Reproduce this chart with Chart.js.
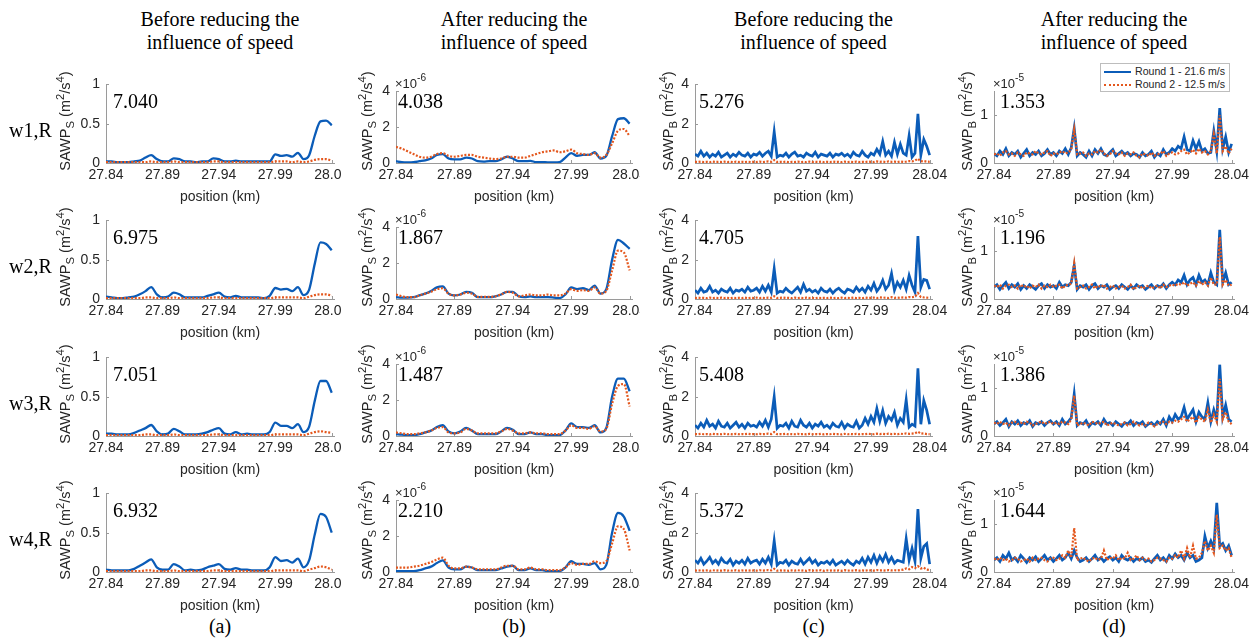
<!DOCTYPE html>
<html><head><meta charset="utf-8">
<script src="https://cdn.jsdelivr.net/npm/chart.js@4/dist/chart.umd.min.js"></script>
<style>
body{margin:0;background:#fff;width:1259px;height:638px;overflow:hidden;position:relative;font-family:"Liberation Sans",Arial,sans-serif;}
.wrap{position:absolute;overflow:hidden;}
.serif{position:absolute;font-family:"Liberation Serif","Times New Roman",serif;color:#000;white-space:nowrap;}
.ctitle{position:absolute;font-family:"Liberation Serif","Times New Roman",serif;font-size:20px;line-height:23px;text-align:center;transform:translateX(-50%);white-space:nowrap;color:#000;}
.ytitle{position:absolute;white-space:nowrap;font-size:14.5px;color:#262626;transform:translate(-50%,-50%) rotate(-90deg);line-height:16px;}
.ytitle sub,.exp sup,.ytitle sup{font-size:78%;line-height:0;}
.ytitle sub{vertical-align:-0.35em;}
.ytitle sup{vertical-align:0.55em;}
.exp{position:absolute;font-size:13px;color:#262626;white-space:nowrap;transform:translateY(-50%);}
.exp sup{vertical-align:0.6em;}
.legend{position:absolute;left:1100px;top:63px;width:128px;height:27px;border:1px solid #bdbdbd;background:#fff;font-size:10.6px;color:#262626;z-index:5;}
.legend .it{position:absolute;left:3px;height:13px;line-height:13px;white-space:nowrap;}
.legend .sw{display:inline-block;width:27px;height:0;vertical-align:middle;margin-right:4px;}
</style>
</head><body>
<script>
// ---------- data ----------
const xTicks = [27.84, 27.89, 27.94, 27.99, 28.04];
const yTicksA = [0, 0.5, 1];
const yTicksB = [0, 2, 4];   // x 1e-6
const yTicksC = [0, 2, 4];
const yTicksD = [0, 1];      // x 1e-5
const colTitle = ['Before reducing the', 'After reducing the', 'Before reducing the', 'After reducing the'];
const colTitle2 = 'influence of speed';
const panelLetters = ['(a)', '(b)', '(c)', '(d)'];
const rowLabels = ['w1,R', 'w2,R', 'w3,R', 'w4,R'];
const energyA = ['7.040', '6.975', '7.051', '6.932'];
const energyB = ['4.038', '1.867', '1.487', '2.210'];
const energyC = ['5.276', '4.705', '5.408', '5.372'];
const energyD = ['1.353', '1.196', '1.386', '1.644'];
const seriesNames = ['Round 1 - 21.6 m/s', 'Round 2 - 12.5 m/s'];

const posSmooth = [27.84,27.845,27.85,27.855,27.86,27.865,27.87,27.875,27.88,27.885,
27.89,27.895,27.9,27.905,27.91,27.915,27.92,27.925,27.93,27.935,
27.94,27.945,27.95,27.955,27.96,27.965,27.97,27.975,27.98,27.985,
27.99,27.995,28,28.005,28.01,28.015,28.02,28.025,28.03,28.035,28.04];
const posNoisy = [27.84,27.8425,27.845,27.8475,27.85,27.8525,27.855,27.8575,27.86,27.8625,
27.865,27.8675,27.87,27.8725,27.875,27.8775,27.88,27.8825,27.885,27.8875,
27.89,27.8925,27.895,27.8975,27.9,27.9025,27.905,27.9075,27.91,27.9125,
27.915,27.9175,27.92,27.9225,27.925,27.9275,27.93,27.9325,27.935,27.9375,
27.94,27.9425,27.945,27.9475,27.95,27.9525,27.955,27.9575,27.96,27.9625,
27.965,27.9675,27.97,27.9725,27.975,27.9775,27.98,27.9825,27.985,27.9875,
27.99,27.9925,27.995,27.9975,28,28.0025,28.005,28.0075,28.01,28.0125,
28.015,28.0175,28.02,28.0225,28.025,28.0275,28.03,28.0325,28.035,28.0375,28.04];

// (a) SAWP_S before
const a1Blue = [.02,.02,.01,.01,.01,.02,.03,.07,.10,.05,.02,.02,.06,.05,.02,.02,.01,.02,.02,.06,.05,.02,.02,.03,.02,.02,.02,.02,.02,.02,.11,.09,.10,.08,.13,.05,.10,.35,.53,.54,.48];
const a1Orange = [.01,.01,.01,.01,.01,.01,.01,.01,.02,.01,.01,.01,.02,.01,.01,.01,.01,.01,.01,.02,.02,.01,.01,.01,.01,.01,.01,.01,.01,.01,.02,.02,.02,.01,.02,.01,.02,.04,.05,.05,.03];
const a2Blue = [.03,.02,.01,.01,.02,.03,.06,.10,.15,.06,.02,.03,.08,.06,.02,.02,.02,.02,.04,.06,.08,.03,.02,.04,.02,.02,.02,.02,.01,.04,.14,.12,.13,.10,.15,.05,.12,.45,.72,.70,.62];
const a2Orange = [.01,.01,.01,.01,.01,.01,.01,.02,.02,.01,.01,.01,.02,.01,.01,.01,.01,.01,.01,.02,.02,.01,.01,.01,.01,.01,.01,.01,.01,.01,.02,.02,.02,.02,.02,.01,.03,.05,.06,.06,.04];
const a3Blue = [.03,.03,.02,.02,.02,.04,.07,.10,.14,.06,.02,.03,.09,.06,.02,.02,.02,.03,.05,.08,.10,.03,.02,.05,.02,.03,.02,.02,.02,.05,.17,.13,.13,.10,.15,.05,.12,.45,.70,.70,.55];
const a3Orange = [.01,.01,.01,.01,.01,.01,.01,.02,.02,.01,.01,.01,.02,.01,.01,.01,.01,.01,.01,.02,.02,.01,.01,.01,.01,.01,.01,.01,.01,.01,.02,.02,.02,.02,.02,.01,.03,.05,.06,.05,.04];
const a4Blue = [.03,.02,.02,.02,.02,.04,.08,.12,.16,.06,.03,.03,.10,.07,.02,.03,.02,.03,.06,.08,.10,.04,.03,.05,.03,.03,.02,.02,.02,.06,.19,.14,.15,.12,.17,.06,.15,.48,.74,.70,.50];
const a4Orange = [.01,.01,.01,.01,.01,.01,.01,.02,.02,.01,.01,.01,.02,.01,.01,.01,.01,.01,.01,.02,.02,.01,.01,.01,.01,.01,.01,.01,.01,.01,.02,.02,.02,.02,.02,.01,.03,.05,.07,.06,.03];

// (b) SAWP_S after (x 1e-6)
const b1Blue = [.10,.05,.04,.05,.10,.15,.25,.45,.50,.25,.20,.20,.30,.25,.10,.08,.10,.10,.20,.35,.25,.10,.10,.12,.05,.05,.04,.04,.05,.30,.55,.40,.45,.45,.60,.25,.40,1.50,2.45,2.50,2.20];
const b1Orange = [.90,.80,.65,.50,.35,.30,.35,.50,.55,.40,.35,.40,.45,.45,.35,.30,.25,.22,.25,.35,.35,.30,.30,.40,.50,.60,.65,.70,.60,.65,.75,.55,.50,.45,.55,.30,.45,1.10,1.80,1.90,1.50];
const b2Blue = [.10,.08,.08,.10,.20,.30,.45,.65,.70,.30,.20,.25,.40,.35,.10,.10,.10,.15,.25,.40,.40,.15,.10,.15,.10,.10,.10,.08,.05,.25,.65,.55,.60,.50,.75,.30,.55,2.20,3.30,3.10,2.80];
const b2Orange = [.25,.15,.10,.10,.20,.30,.40,.55,.60,.30,.20,.25,.35,.30,.12,.12,.12,.15,.25,.40,.35,.15,.20,.25,.20,.20,.25,.20,.20,.30,.55,.45,.50,.45,.65,.30,.45,1.60,2.70,2.60,1.60];
const b3Blue = [.10,.08,.05,.05,.10,.20,.30,.50,.60,.25,.15,.25,.45,.30,.10,.10,.10,.10,.25,.45,.35,.10,.10,.20,.10,.10,.05,.05,.05,.30,.70,.50,.50,.45,.60,.20,.45,2.20,3.20,3.20,2.50];
const b3Orange = [.20,.15,.10,.10,.15,.20,.30,.45,.50,.20,.15,.20,.40,.30,.15,.15,.15,.15,.25,.40,.30,.15,.15,.20,.15,.15,.10,.10,.10,.30,.60,.45,.45,.40,.55,.25,.40,1.80,2.80,2.90,1.65];
const b4Blue = [.05,.05,.05,.05,.10,.20,.30,.50,.65,.25,.15,.15,.30,.25,.10,.10,.10,.10,.20,.30,.35,.10,.10,.20,.10,.10,.05,.05,.05,.25,.60,.45,.45,.40,.50,.15,.40,2.20,3.30,3.10,2.30];
const b4Orange = [.25,.25,.25,.30,.35,.45,.55,.70,.80,.35,.20,.20,.30,.25,.15,.15,.15,.15,.25,.35,.35,.15,.15,.25,.15,.15,.10,.10,.10,.25,.50,.40,.45,.45,.60,.50,.60,1.60,2.55,2.40,1.20];

// (c) SAWP_B before
const c1Blue = [0.45,0.35,0.60,0.35,0.50,0.30,0.45,0.35,0.55,0.30,
0.40,0.50,0.30,0.45,0.35,0.55,0.40,0.35,0.50,0.30,
0.45,0.40,0.55,0.35,0.50,0.60,0.35,1.60,0.30,0.40,
0.35,0.50,0.30,0.45,0.55,0.35,0.40,0.30,0.50,0.40,
0.35,0.55,0.30,0.45,0.40,0.35,0.50,0.30,0.45,0.40,
0.50,0.35,0.45,0.30,0.55,0.40,0.35,0.60,0.40,0.30,
0.50,0.40,0.70,0.45,1.10,0.40,0.60,0.35,1.05,0.45,
0.95,0.50,0.40,1.40,0.30,0.50,2.50,0.40,1.20,0.85,0.40];
const c1Orange = [0.06,0.05,0.07,0.05,0.06,0.04,0.07,0.05,0.06,0.05,
0.07,0.05,0.06,0.04,0.07,0.05,0.06,0.05,0.07,0.05,
0.06,0.05,0.07,0.05,0.06,0.08,0.06,0.15,0.05,0.06,
0.05,0.07,0.04,0.06,0.05,0.07,0.05,0.06,0.04,0.07,
0.05,0.06,0.05,0.07,0.04,0.06,0.05,0.07,0.05,0.06,
0.04,0.07,0.05,0.06,0.05,0.07,0.05,0.06,0.05,0.07,
0.06,0.05,0.08,0.06,0.07,0.05,0.08,0.06,0.07,0.05,
0.08,0.06,0.07,0.10,0.08,0.12,0.22,0.08,0.10,0.07,0.06];
const c2Blue = [0.45,0.30,0.55,0.35,0.40,0.65,0.35,0.45,0.30,0.50,
0.40,0.35,0.55,0.30,0.45,0.40,0.50,0.35,0.60,0.40,
0.45,0.55,0.35,0.65,0.40,0.70,0.35,1.55,0.30,0.40,
0.35,0.55,0.40,0.30,0.45,0.60,0.35,0.75,0.40,0.50,
0.35,0.45,0.30,0.55,0.40,0.35,0.50,0.30,0.45,0.55,
0.40,0.30,0.50,0.45,0.35,0.60,0.40,0.55,0.35,0.65,
0.45,0.80,0.40,0.60,0.95,0.50,0.70,1.30,0.45,0.85,
0.60,0.95,0.50,1.20,0.70,0.35,3.20,0.60,1.00,0.95,0.50];
const c2Orange = [0.05,0.07,0.05,0.06,0.04,0.07,0.05,0.06,0.05,0.07,
0.05,0.06,0.04,0.07,0.05,0.06,0.05,0.07,0.04,0.06,
0.05,0.07,0.05,0.06,0.05,0.07,0.06,0.14,0.05,0.06,
0.07,0.05,0.06,0.04,0.07,0.05,0.06,0.05,0.07,0.05,
0.06,0.04,0.07,0.05,0.06,0.05,0.07,0.05,0.06,0.04,
0.07,0.05,0.06,0.05,0.07,0.05,0.06,0.04,0.07,0.05,
0.06,0.07,0.05,0.08,0.06,0.07,0.05,0.09,0.06,0.07,
0.06,0.08,0.07,0.10,0.09,0.12,0.30,0.10,0.08,0.07,0.06];
const c3Blue = [0.55,0.40,0.65,0.45,0.80,0.50,0.60,0.40,0.75,0.50,
0.45,0.65,0.40,0.55,0.70,0.45,0.60,0.40,0.65,0.50,
0.55,0.45,0.70,0.50,0.80,0.45,0.85,2.00,0.40,0.55,
0.50,0.65,0.40,0.75,0.50,0.45,0.80,0.55,0.45,0.65,
0.40,0.60,0.50,0.70,0.45,0.55,0.40,0.65,0.50,0.45,
0.70,0.40,0.60,0.50,0.45,0.75,0.40,0.55,0.90,0.60,
1.00,0.70,1.40,0.75,1.30,0.65,1.00,0.80,1.20,0.55,
0.90,0.70,1.85,0.45,0.60,0.50,3.45,0.60,1.80,1.30,0.60];
const c3Orange = [0.10,0.09,0.11,0.09,0.10,0.08,0.11,0.09,0.10,0.09,
0.11,0.09,0.10,0.08,0.11,0.09,0.10,0.09,0.11,0.09,
0.10,0.09,0.11,0.09,0.10,0.12,0.10,0.20,0.09,0.10,
0.09,0.11,0.08,0.10,0.09,0.11,0.09,0.10,0.08,0.11,
0.09,0.10,0.09,0.11,0.08,0.10,0.09,0.11,0.09,0.10,
0.08,0.11,0.09,0.10,0.09,0.11,0.09,0.10,0.09,0.11,
0.10,0.09,0.12,0.10,0.11,0.09,0.12,0.10,0.11,0.09,
0.12,0.10,0.13,0.11,0.12,0.14,0.22,0.12,0.13,0.10,0.09];
const c4Blue = [0.60,0.45,0.70,0.40,0.55,0.75,0.45,0.60,0.40,0.70,
0.50,0.45,0.65,0.35,0.55,0.45,0.60,0.40,0.70,0.45,
0.55,0.60,0.40,0.65,0.45,0.75,0.40,1.60,0.35,0.50,
0.45,0.60,0.35,0.55,0.45,0.40,0.65,0.40,0.55,0.70,
0.45,0.60,0.35,0.50,0.45,0.55,0.40,0.60,0.35,0.45,
0.55,0.40,0.60,0.45,0.35,0.55,0.45,0.70,0.40,0.75,
0.50,0.85,0.45,0.80,0.55,0.90,0.50,0.75,0.45,0.60,
0.55,0.50,1.70,0.60,1.20,0.55,3.20,0.70,1.30,1.45,0.40];
const c4Orange = [0.08,0.07,0.09,0.07,0.08,0.06,0.09,0.07,0.08,0.07,
0.09,0.07,0.08,0.06,0.09,0.07,0.08,0.07,0.09,0.07,
0.08,0.07,0.09,0.07,0.08,0.10,0.08,0.16,0.07,0.08,
0.07,0.09,0.06,0.08,0.07,0.09,0.07,0.08,0.06,0.09,
0.07,0.08,0.07,0.09,0.06,0.08,0.07,0.09,0.07,0.08,
0.06,0.09,0.07,0.08,0.07,0.09,0.07,0.08,0.07,0.09,
0.08,0.07,0.10,0.08,0.09,0.07,0.10,0.08,0.09,0.08,
0.10,0.12,0.18,0.14,0.25,0.20,0.30,0.18,0.22,0.12,0.10];

// (d) SAWP_B after (x 1e-5)
const d1Blue = [0.20,0.15,0.25,0.18,0.30,0.15,0.22,0.18,0.25,0.12,
0.20,0.28,0.15,0.22,0.18,0.25,0.15,0.20,0.28,0.18,
0.22,0.15,0.25,0.20,0.30,0.18,0.32,0.73,0.15,0.22,
0.18,0.12,0.25,0.15,0.28,0.20,0.30,0.18,0.15,0.22,
0.28,0.15,0.20,0.25,0.18,0.22,0.15,0.20,0.18,0.12,
0.22,0.15,0.18,0.25,0.12,0.20,0.15,0.28,0.18,0.22,
0.30,0.25,0.35,0.30,0.55,0.28,0.25,0.47,0.30,0.45,
0.25,0.30,0.20,0.22,0.67,0.25,1.15,0.30,0.55,0.22,0.40];
const d1Orange = [0.18,0.20,0.15,0.22,0.25,0.18,0.20,0.15,0.22,0.18,
0.15,0.22,0.20,0.18,0.25,0.20,0.18,0.22,0.25,0.15,
0.20,0.18,0.22,0.25,0.20,0.22,0.28,0.70,0.18,0.20,
0.22,0.15,0.20,0.18,0.25,0.22,0.28,0.20,0.15,0.18,
0.25,0.20,0.18,0.22,0.15,0.20,0.18,0.22,0.15,0.12,
0.20,0.18,0.15,0.22,0.15,0.18,0.20,0.25,0.15,0.20,
0.22,0.18,0.20,0.25,0.28,0.18,0.22,0.28,0.20,0.30,
0.22,0.25,0.18,0.25,0.60,0.20,1.00,0.25,0.35,0.20,0.30];
const d2Blue = [0.25,0.30,0.20,0.28,0.35,0.22,0.30,0.25,0.32,0.20,
0.28,0.22,0.30,0.25,0.20,0.28,0.32,0.22,0.30,0.25,
0.28,0.22,0.35,0.25,0.30,0.28,0.35,0.70,0.20,0.28,
0.25,0.30,0.20,0.28,0.32,0.22,0.28,0.25,0.30,0.20,
0.25,0.28,0.22,0.30,0.25,0.20,0.28,0.22,0.30,0.25,
0.28,0.20,0.25,0.30,0.22,0.28,0.25,0.32,0.22,0.30,
0.35,0.30,0.40,0.35,0.50,0.30,0.40,0.45,0.30,0.50,
0.35,0.40,0.30,0.55,0.35,0.30,1.45,0.35,0.55,0.30,0.35];
const d2Orange = [0.28,0.25,0.30,0.22,0.28,0.30,0.25,0.28,0.22,0.30,
0.25,0.28,0.22,0.28,0.25,0.30,0.22,0.28,0.25,0.30,
0.25,0.28,0.30,0.22,0.28,0.30,0.32,0.75,0.22,0.25,
0.28,0.22,0.25,0.30,0.22,0.28,0.25,0.30,0.22,0.25,
0.28,0.22,0.25,0.28,0.22,0.25,0.30,0.20,0.25,0.28,
0.22,0.25,0.28,0.22,0.25,0.28,0.22,0.30,0.25,0.28,
0.30,0.28,0.32,0.30,0.35,0.28,0.32,0.35,0.28,0.38,
0.30,0.35,0.28,0.45,0.30,0.30,1.30,0.30,0.40,0.28,0.30];
const d3Blue = [0.25,0.30,0.22,0.28,0.35,0.20,0.30,0.25,0.32,0.22,
0.28,0.25,0.32,0.20,0.28,0.25,0.30,0.22,0.28,0.32,
0.25,0.30,0.22,0.35,0.25,0.30,0.38,0.88,0.22,0.28,
0.25,0.32,0.20,0.28,0.25,0.30,0.22,0.35,0.25,0.28,
0.22,0.30,0.25,0.20,0.28,0.25,0.32,0.22,0.28,0.25,
0.30,0.20,0.25,0.28,0.22,0.30,0.25,0.35,0.22,0.40,
0.30,0.45,0.35,0.40,0.60,0.35,0.45,0.55,0.30,0.50,
0.40,0.35,0.70,0.30,0.55,0.35,1.50,0.40,0.65,0.35,0.30];
const d3Orange = [0.28,0.25,0.30,0.25,0.28,0.22,0.28,0.30,0.25,0.28,
0.25,0.30,0.28,0.22,0.25,0.28,0.30,0.25,0.28,0.30,
0.25,0.28,0.25,0.30,0.28,0.25,0.35,0.85,0.22,0.25,
0.28,0.25,0.22,0.30,0.28,0.25,0.28,0.30,0.22,0.25,
0.28,0.25,0.22,0.25,0.28,0.22,0.25,0.30,0.25,0.22,
0.25,0.22,0.28,0.25,0.20,0.25,0.28,0.30,0.25,0.30,
0.28,0.32,0.30,0.35,0.40,0.30,0.35,0.40,0.28,0.40,
0.35,0.30,0.55,0.28,0.45,0.30,1.20,0.35,0.50,0.30,0.25];
const d4Blue = [0.25,0.30,0.22,0.35,0.28,0.40,0.25,0.30,0.22,0.35,
0.28,0.20,0.30,0.25,0.32,0.22,0.28,0.35,0.25,0.30,
0.22,0.28,0.35,0.25,0.30,0.40,0.28,0.45,0.30,0.22,
0.25,0.30,0.22,0.28,0.35,0.25,0.30,0.22,0.28,0.32,
0.25,0.30,0.22,0.35,0.28,0.25,0.30,0.22,0.28,0.25,
0.30,0.22,0.25,0.20,0.28,0.35,0.25,0.30,0.22,0.35,
0.28,0.38,0.30,0.35,0.25,0.40,0.30,0.35,0.22,0.25,
0.30,0.75,0.50,0.65,0.50,1.45,0.55,0.60,0.45,0.55,0.35];
const d4Orange = [0.28,0.25,0.30,0.25,0.28,0.22,0.25,0.30,0.28,0.22,
0.25,0.28,0.22,0.30,0.25,0.28,0.30,0.25,0.22,0.28,
0.30,0.25,0.28,0.35,0.30,0.45,0.30,0.92,0.25,0.28,
0.30,0.25,0.22,0.28,0.30,0.25,0.28,0.45,0.25,0.30,
0.28,0.35,0.25,0.30,0.28,0.40,0.25,0.28,0.35,0.25,
0.30,0.25,0.28,0.22,0.25,0.30,0.28,0.25,0.22,0.30,
0.28,0.35,0.30,0.45,0.28,0.50,0.30,0.55,0.28,0.30,
0.40,0.65,0.45,0.55,0.40,1.20,0.50,0.55,0.45,0.50,0.30];

// ---------- layout / style ----------
const BLUE = '#0b5cb8', ORANGE = '#e4571d', AXIS = '#9a9a9a', TXT = '#262626';
const rowBottoms = [163, 299, 435.5, 571.5];
const cols = [
  {left:106, right:334, h:81, ymax:1,   yticks:yTicksA, pos:posSmooth, smooth:true,  blue:[a1Blue,a2Blue,a3Blue,a4Blue], orange:[a1Orange,a2Orange,a3Orange,a4Orange], energy:energyA, eOff:7, exp:null, sub:'S', tX:65,  clip:341},
  {left:396, right:632, h:74, ymax:4,   yticks:yTicksB, pos:posSmooth, smooth:true,  blue:[b1Blue,b2Blue,b3Blue,b4Blue], orange:[b1Orange,b2Orange,b3Orange,b4Orange], energy:energyB, eOff:2, exp:'-6', sub:'S', tX:367, clip:640},
  {left:695, right:932, h:81, ymax:4,   yticks:yTicksC, pos:posNoisy,  smooth:false, blue:[c1Blue,c2Blue,c3Blue,c4Blue], orange:[c1Orange,c2Orange,c3Orange,c4Orange], energy:energyC, eOff:4, exp:null, sub:'B', tX:668, clip:null},
  {left:994, right:1234,h:74, ymax:1.5, yticks:yTicksD, pos:posNoisy,  smooth:false, blue:[d1Blue,d2Blue,d3Blue,d4Blue], orange:[d1Orange,d2Orange,d3Orange,d4Orange], energy:energyD, eOff:6, exp:'-5', sub:'B', tX:967, clip:null}
];
const YW = 40, PT = 12, PR = 25, XH = 45;

Chart.defaults.font.family = '"Liberation Sans", Arial, sans-serif';
Chart.defaults.color = TXT;

const inwardTicks = {
  id:'inwardTicks',
  beforeDatasetsDraw(chart){
    const {ctx, chartArea:a} = chart; const xs = chart.scales.x, ys = chart.scales.y;
    ctx.save(); ctx.strokeStyle = AXIS; ctx.lineWidth = 1; ctx.beginPath();
    xs.ticks.forEach(t => { const p = Math.round(xs.getPixelForValue(t.value)) + 0.5; ctx.moveTo(p, a.bottom); ctx.lineTo(p, a.bottom - 3); });
    ys.ticks.forEach(t => { const p = Math.round(ys.getPixelForValue(t.value)) + 0.5; ctx.moveTo(a.left, p); ctx.lineTo(a.left + 3, p); });
    ctx.stroke(); ctx.restore();
  }
};

function el(tag, cls, html, style){ const e = document.createElement(tag); if(cls) e.className = cls; if(html!=null) e.innerHTML = html; Object.assign(e.style, style||{}); document.body.appendChild(e); return e; }

cols.forEach((c, ci) => {
  const cx = (c.left + c.right) / 2;
  el('div', 'ctitle', colTitle[ci] + '<br>' + colTitle2, {left: cx + 'px', top: '8px'});
  el('div', 'ctitle', panelLetters[ci], {left: cx + 'px', top: '615px'});
  rowBottoms.forEach((bot, ri) => {
    const plotW = c.right - c.left;
    const cw = YW + plotW + PR, chh = PT + c.h + XH;
    const wl = c.left - YW, wt = bot - c.h - PT;
    const wrap = el('div', 'wrap', null, {left: wl + 'px', top: wt + 'px', width: (c.clip ? Math.min(cw, c.clip - wl) : cw) + 'px', height: chh + 'px'});
    const cv = document.createElement('canvas'); cv.width = cw; cv.height = chh; cv.style.width = cw + 'px'; cv.style.height = chh + 'px';
    wrap.appendChild(cv);
    const mk = arr => c.pos.map((x, i) => ({x: x, y: arr[i]}));
    new Chart(cv, {
      type: 'line',
      data: { datasets: [
        {label: seriesNames[0], data: mk(c.blue[ri]), borderColor: BLUE, borderWidth: c.smooth ? 2.3 : 2.7, pointRadius: 0, tension: c.smooth ? 0.4 : 0, cubicInterpolationMode: c.smooth ? 'monotone' : 'default', order: 1},
        {label: seriesNames[1], data: mk(c.orange[ri]), borderColor: ORANGE, borderWidth: 2.2, borderDash: [2, 1.6], pointRadius: 0, tension: c.smooth ? 0.4 : 0, cubicInterpolationMode: c.smooth ? 'monotone' : 'default', order: 0}
      ]},
      options: {
        responsive: false, animation: false, devicePixelRatio: 1,
        layout: {padding: {top: PT, right: PR, left: 0, bottom: 0}},
        plugins: {legend: {display: false}, tooltip: {enabled: false}},
        scales: {
          x: {type: 'linear', min: 27.84, max: 28.042,
              afterBuildTicks: s => { s.ticks = xTicks.map(v => ({value: v})); },
              afterFit: s => { s.height = XH; },
              grid: {display: false, drawTicks: false},
              border: {display: true, color: AXIS, width: 1},
              ticks: {padding: 4, font: {size: 14}, color: TXT, maxRotation: 0, autoSkip: false, callback: v => Number(v).toFixed(2)},
              title: {display: true, text: 'position (km)', font: {size: 14}, color: TXT, padding: {top: 0, bottom: 2}}},
          y: {type: 'linear', min: 0, max: c.ymax,
              afterBuildTicks: s => { s.ticks = c.yticks.map(v => ({value: v})); },
              afterFit: s => { s.width = YW; },
              grid: {display: false, drawTicks: false},
              border: {display: true, color: AXIS, width: 1},
              ticks: {padding: 6, font: {size: 14}, color: TXT, callback: v => String(v)}}
        }
      },
      plugins: [inwardTicks]
    });
    el('div', 'ytitle', 'SAWP<sub>' + c.sub + '</sub> (m<sup>2</sup>/s<sup>4</sup>)', {left: c.tX + 'px', top: (bot - 42) + 'px'});
    if (c.exp) el('div', 'exp', '\u00d710<sup>' + c.exp + '</sup>', {left: (c.left - 1) + 'px', top: (bot - 80) + 'px'});
    el('div', 'serif', c.energy[ri], {left: (c.left + c.eOff) + 'px', top: (bot - 62) + 'px', fontSize: '20px', lineHeight: '20px', transform: 'translateY(-50%)'});
    if (ci === 0) el('div', 'serif', rowLabels[ri], {left: '9px', top: (bot - 33) + 'px', fontSize: '20px', lineHeight: '20px', transform: 'translateY(-50%)'});
  });
});

const lg = el('div', 'legend', null, {});
lg.innerHTML = '<div class="it" style="top:1px"><span class="sw" style="border-top:2.5px solid ' + BLUE + '"></span>' + seriesNames[0] + '</div>' +
               '<div class="it" style="top:14px"><span class="sw" style="border-top:2.5px dotted ' + ORANGE + '"></span>' + seriesNames[1] + '</div>';
</script>
</body></html>
